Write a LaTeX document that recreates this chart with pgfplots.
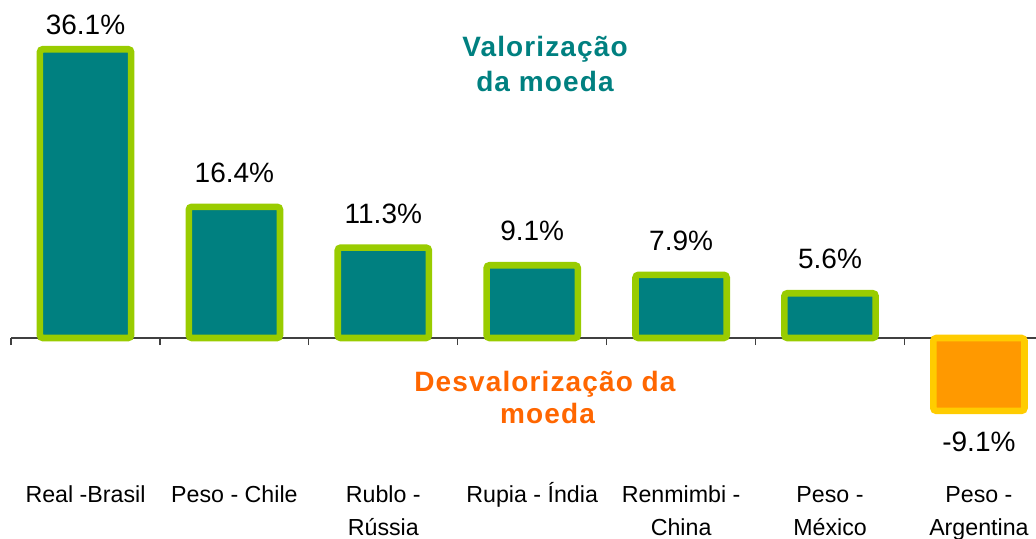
\documentclass[border=0pt]{standalone}
\usepackage{pgfplots}
\pgfplotsset{compat=1.18}
\usepackage{fontspec}
\setmainfont{Liberation Sans}
\newfontfamily\boldlab[LetterSpace=4]{Liberation Sans Bold}
\definecolor{barteal}{HTML}{008080}
\definecolor{bargreen}{HTML}{99CC00}
\definecolor{barorange}{HTML}{FF9900}
\definecolor{bargold}{HTML}{FFCC00}
\definecolor{txtorange}{HTML}{FF6600}
\begin{document}
\begin{tikzpicture}
\path[use as bounding box] (0,0) rectangle (518pt,269pt);
\begin{axis}[
  at={(5.53pt,20pt)}, anchor=south west,
  scale only axis, width=521.15pt, height=240pt,
  xmin=-0.5, xmax=6.5, ymin=-20, ymax=40,
  axis x line=middle, axis y line=none,
  axis line style={-, draw=black!75, line width=0.6pt},
  xtick={0,...,6},
  xticklabels={\strut Real -Brasil, \strut Peso - Chile, {\strut Rublo -\\Rússia}, \strut Rupia - Índia, {\strut Renmimbi -\\China}, {\strut Peso -\\México}, {\strut Peso -\\Argentina}},
  major tick length=0pt,
  minor xtick={-0.5,0.5,...,6.5},
  minor tick length=3.5pt,
  xtick align=outside,
  minor tick style={draw=black!75, line width=0.6pt},
  xticklabel style={anchor=north, align=center, inner sep=0pt, yshift=-70.6pt, font=\fontsize{11.6pt}{16.5pt}\selectfont},
  ybar, bar width=45.6pt,
  clip=false,
  /pgf/number format/assume math mode=true,
  nodes near coords={\pgfmathprintnumber[fixed,fixed zerofill,precision=1]{\pgfplotspointmeta}\%},
  every node near coord/.append style={font=\fontsize{14pt}{16pt}\selectfont, text=black, inner xsep=0pt},
]
\addplot[bar shift=0pt, fill=barteal, draw=bargreen, line width=3.3pt, rounded corners=1.5pt,
  nodes near coords style={inner ysep=5.6pt}] coordinates {(0,36.1)};
\addplot[bar shift=0pt, fill=barteal, draw=bargreen, line width=3.3pt, rounded corners=1.5pt,
  nodes near coords style={inner ysep=10.5pt}] coordinates {(1,16.4) (2,11.3) (3,9.1) (4,7.9) (5,5.6)};
\addplot[bar shift=0pt, fill=barorange, draw=bargold, line width=3.3pt, rounded corners=1.5pt,
  nodes near coords style={inner ysep=8.75pt}] coordinates {(6,-9.1)};
\end{axis}
\node[anchor=base, text=barteal, font={\boldlab\fontsize{14pt}{17pt}\selectfont}] at (272.5pt,240.85pt) {Valorização};
\node[anchor=base, text=barteal, font={\boldlab\fontsize{14pt}{17pt}\selectfont}] at (272.5pt,223.35pt) {da moeda};
\node[anchor=base, text=txtorange, font={\boldlab\fontsize{14pt}{17pt}\selectfont}] at (272.5pt,73.15pt) {Desvalorização da};
\node[anchor=base, text=txtorange, font={\boldlab\fontsize{14pt}{17pt}\selectfont}] at (273.75pt,57.35pt) {moeda};
\end{tikzpicture}
\end{document}
